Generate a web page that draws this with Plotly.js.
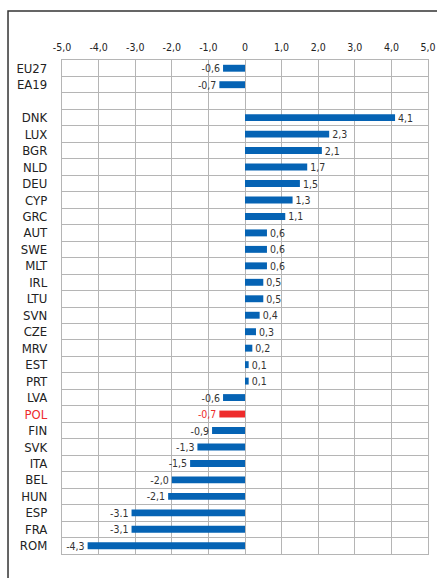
<!DOCTYPE html>
<html>
<head>
<meta charset="utf-8">
<script src="https://cdn.plot.ly/plotly-3.0.1.min.js"></script>
<style>html,body{margin:0;padding:0;background:#fff;}#chart{width:437px;height:578px;}</style>
</head>
<body>
<div id="chart"></div>
<script>
const categories = ["EU27","EA19"," ","DNK","LUX","BGR","NLD","DEU","CYP","GRC","AUT","SWE","MLT","IRL","LTU","SVN","CZE","MRV","EST","PRT","LVA","POL","FIN","SVK","ITA","BEL","HUN","ESP","FRA","ROM"];
const values = [-0.6,-0.7,null,4.1,2.3,2.1,1.7,1.5,1.3,1.1,0.6,0.6,0.6,0.5,0.5,0.4,0.3,0.2,0.1,0.1,-0.6,-0.7,-0.9,-1.3,-1.5,-2.0,-2.1,-3.1,-3.1,-4.3];
const valueLabels = ["-0,6","-0,7","","4,1","2,3","2,1","1,7","1,5","1,3","1,1","0,6","0,6","0,6","0,5","0,5","0,4","0,3","0,2","0,1","0,1","-0,6","-0,7","-0,9","-1,3","-1,5","-2,0","-2,1","-3.1","-3,1","-4,3"];
const xTickVals = [-5,-4,-3,-2,-1,0,1,2,3,4,5];
const xTickText = ["-5,0","-4,0","-3,0","-2,0","-1,0","0","1,0","2,0","3,0","4,0","5,0"];
const highlight = "POL";

const blue = "#0563B4", red = "#EE2B2B";
const colors = categories.map(c => c === highlight ? red : blue);
const textColors = categories.map(c => c === highlight ? red : "#333333");
const PAD = "\u00A0\u00A0\u00A0";
const yTickText = categories.map(c => (c === highlight ? '<span style="color:' + red + '">' + c + '</span>' : c) + PAD);

const FONT = "'Liberation Sans Narrow', 'DejaVu Sans Condensed', 'Open Sans', sans-serif";
const GRID = "#b5b5b5";

Plotly.newPlot("chart", [{
  type: "bar",
  orientation: "h",
  y: categories,
  x: values,
  text: valueLabels,
  textposition: "outside",
  textfont: {family: FONT, size: 10.5, color: textColors},
  constraintext: "none",
  cliponaxis: false,
  marker: {color: colors},
  width: 0.42,
  hoverinfo: "skip"
}], {
  width: 437, height: 578,
  margin: {l: 62, r: 9, t: 60, b: 24},
  paper_bgcolor: "#ffffff",
  plot_bgcolor: "#ffffff",
  showlegend: false,
  font: {family: FONT, color: "#222222"},
  xaxis: {
    side: "top",
    range: [-5, 5],
    tickmode: "array",
    tickvals: xTickVals,
    ticktext: xTickText,
    tickfont: {family: FONT, size: 10.5, color: "#222222"},
    showgrid: true, gridcolor: GRID, gridwidth: 1,
    zeroline: false,
    showline: true, linecolor: GRID, linewidth: 1, mirror: true,
    ticks: "outside", ticklen: 4, tickcolor: "rgba(0,0,0,0)"
  },
  yaxis: {
    type: "category",
    categoryorder: "array",
    categoryarray: categories,
    autorange: "reversed",
    tickmode: "array",
    tickvals: categories,
    ticktext: yTickText,
    tickson: "boundaries",
    tickfont: {family: FONT, size: 13, color: "#222222"},
    showgrid: true, gridcolor: GRID, gridwidth: 1,
    zeroline: false,
    showline: true, linecolor: GRID, linewidth: 1, mirror: true,
    ticks: "outside", ticklen: 12, tickcolor: "rgba(0,0,0,0)"
  },
  shapes: [{
    type: "rect", xref: "paper", yref: "paper",
    x0: -0.1475, x1: 1.04, y0: -0.06, y1: 1.0992,
    line: {color: "#333333", width: 1.5}, fillcolor: "rgba(0,0,0,0)", layer: "above"
  }]
}, {displayModeBar: false});
</script>
</body>
</html>
